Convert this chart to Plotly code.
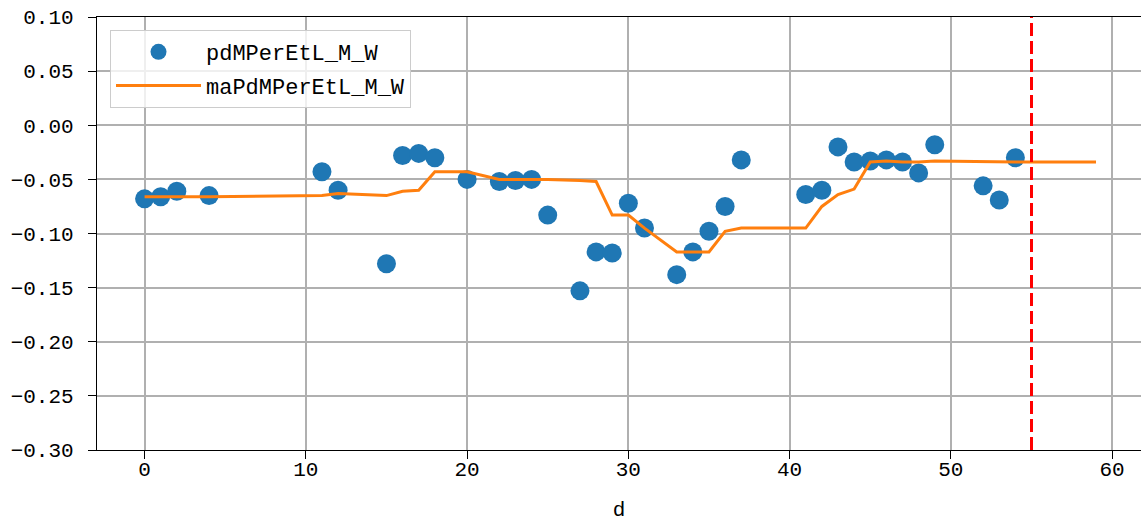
import plotly.graph_objects as go

# scatter points: day index and value
days = [0, 1, 2, 4, 11, 12, 15, 16, 17, 18, 20, 22, 23, 24, 25, 27, 28, 29, 30,
        31, 33, 34, 35, 36, 37, 41, 42, 43, 44, 45, 46, 47, 48, 49, 52, 53, 54]
pd_vals = [-0.068, -0.066, -0.061, -0.065, -0.043, -0.060, -0.128, -0.028, -0.026,
           -0.030, -0.050, -0.052, -0.051, -0.050, -0.083, -0.153, -0.117, -0.118,
           -0.072, -0.095, -0.138, -0.117, -0.098, -0.075, -0.032, -0.064, -0.060,
           -0.020, -0.034, -0.033, -0.032, -0.034, -0.044, -0.018, -0.056, -0.069,
           -0.030]

# moving average line
ma_days = [0, 1, 2, 4, 11, 12, 15, 16, 17, 18, 20, 22, 23, 24, 25, 27, 28, 29, 30,
           31, 33, 34, 35, 36, 37, 41, 42, 43, 44, 45, 46, 47, 48, 49, 52, 53, 54, 59]
ma_vals = [-0.066, -0.066, -0.066, -0.066, -0.065, -0.063, -0.065, -0.061, -0.060,
           -0.043, -0.043, -0.050, -0.050, -0.050, -0.050, -0.051, -0.052, -0.083,
           -0.083, -0.095, -0.117, -0.117, -0.117, -0.098, -0.095, -0.095, -0.075,
           -0.064, -0.059, -0.034, -0.033, -0.034, -0.034, -0.033, -0.034, -0.034,
           -0.034, -0.034]

cutoff_day = 55
y_ticks = [0.10, 0.05, 0.00, -0.05, -0.10, -0.15, -0.20, -0.25, -0.30]
y_labels = ["0.10", "0.05", "0.00", "−0.05", "−0.10", "−0.15", "−0.20", "−0.25", "−0.30"]
x_ticks = [0, 10, 20, 30, 40, 50, 60]

FONT = "Liberation Mono"

fig = go.Figure()
fig.add_trace(go.Scatter(x=days, y=pd_vals, mode="markers", name="pdMPerEtL_M_W",
                         marker=dict(color="#1f77b4", size=19),
                         legendgroup="a"))
fig.add_trace(go.Scatter(x=ma_days, y=ma_vals, mode="lines", name="maPdMPerEtL_M_W",
                         line=dict(color="#ff7f0e", width=3),
                         legendgroup="b"))

# red dashed cutoff line
fig.add_shape(type="line", x0=cutoff_day, x1=cutoff_day, y0=0, y1=1,
              xref="x", yref="paper",
              line=dict(color="#ff0000", width=3, dash="13px,5px"))

fig.update_layout(
    width=1141, height=523,
    margin=dict(l=97, r=0, t=17, b=73),
    plot_bgcolor="white", paper_bgcolor="white",
    font=dict(family=FONT, size=21, color="black"),
    showlegend=True,
    legend=dict(x=(110 - 97) / 1044, y=1 - (30 - 17) / 433,
                xanchor="left", yanchor="top",
                bgcolor="rgba(255,255,255,0.8)", bordercolor="#cccccc", borderwidth=1,
                font=dict(family=FONT, size=22),
                itemwidth=85, traceorder="grouped", tracegroupgap=2),
)
fig.update_xaxes(range=[-2.95, 61.79], tickvals=x_ticks, automargin=False,
                 showgrid=True, gridcolor="#b0b0b0", gridwidth=1.6,
                 showline=True, linecolor="black", linewidth=1.3, mirror=True,
                 ticks="outside", ticklen=8, tickwidth=1.3, tickcolor="black",
                 zeroline=False, ticklabelstandoff=-8,
                 title=dict(text="d", font=dict(family=FONT, size=21), standoff=19))
fig.update_yaxes(range=[-0.30, 0.10], tickvals=y_ticks, ticktext=y_labels,
                 automargin=False,
                 showgrid=True, gridcolor="#b0b0b0", gridwidth=1.6,
                 showline=True, linecolor="black", linewidth=1.3,
                 ticks="outside", ticklen=8, tickwidth=1.3, tickcolor="black",
                 zeroline=False, ticklabelstandoff=10)

fig.write_html("out.html", config={"displayModeBar": False},
               post_script="document.body.style.margin='0';")
